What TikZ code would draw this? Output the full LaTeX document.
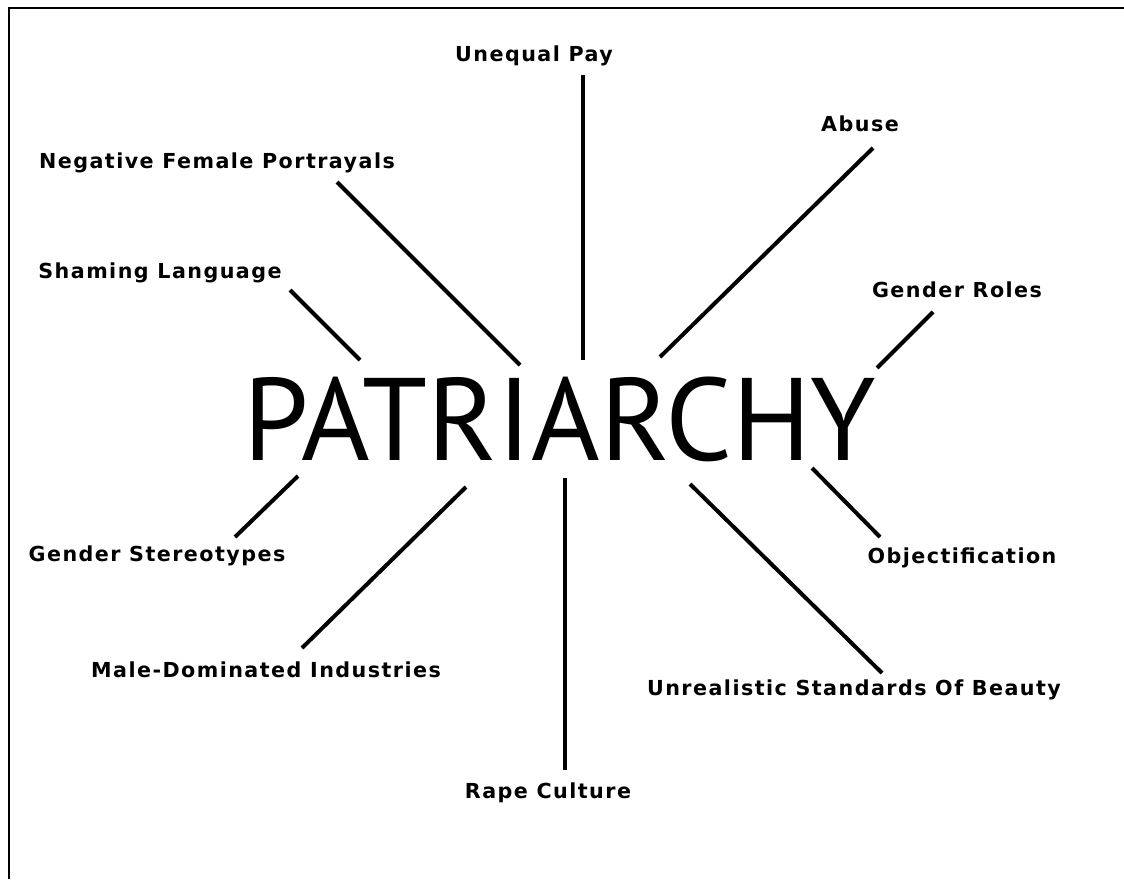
\documentclass[tikz,border=0pt]{standalone}
\usepackage{fontspec}
\setmainfont{DejaVu Sans}
\newfontfamily\titlefont{PT Sans}
\newfontfamily\lblfont[LetterSpace=7]{DejaVu Sans}
\begin{document}
\begin{tikzpicture}[x=0.75pt,y=-0.75pt,
  lbl/.style={anchor=base,inner sep=0pt,font=\lblfont\fontsize{15.5}{18}\selectfont\bfseries},
  conn/.style={line width=3pt},
  frame/.style={line width=1.8pt}]
\useasboundingbox (0,0) rectangle (1124,879);
\fill[white] (0,0) rectangle (1124,879);
\draw[frame] (9,879) -- (9,8) -- (1124,8);
\node[anchor=base,inner sep=0pt,font=\titlefont\fontsize{88}{100}\selectfont] (p) at (560,460) {PATRIARCHY};
\node[lbl] (up) at (534,61) {Unequal Pay};
\node[lbl] (nfp) at (217,168) {Negative Female Portrayals};
\node[lbl] (ab) at (860,131) {Abuse};
\node[lbl] (sl) at (160,278) {Shaming Language};
\node[lbl] (gr) at (957,297) {Gender Roles};
\node[lbl] (gs) at (157,561) {Gender Stereotypes};
\node[lbl] (ob) at (962,563) {Objectification};
\node[lbl] (md) at (266,677) {Male-Dominated Industries};
\node[lbl] (ur) at (854,695) {Unrealistic Standards Of Beauty};
\node[lbl] (rc) at (548,798) {Rape Culture};
\coordinate (a1) at (583,75);  \coordinate (b1) at (583,360);
\coordinate (a2) at (337,182); \coordinate (b2) at (520,365);
\coordinate (a3) at (873,148); \coordinate (b3) at (660,357);
\coordinate (a4) at (290,290); \coordinate (b4) at (360,360);
\coordinate (a5) at (933,312); \coordinate (b5) at (877,368);
\coordinate (a6) at (235,537); \coordinate (b6) at (298,476);
\coordinate (a7) at (880,537); \coordinate (b7) at (812,468);
\coordinate (a8) at (302,648); \coordinate (b8) at (466,487);
\coordinate (a9) at (882,673); \coordinate (b9) at (690,484);
\coordinate (a10) at (565,770); \coordinate (b10) at (565,478);
\foreach \i in {1,...,10} \draw[conn] (a\i) -- (b\i);
\end{tikzpicture}
\end{document}
